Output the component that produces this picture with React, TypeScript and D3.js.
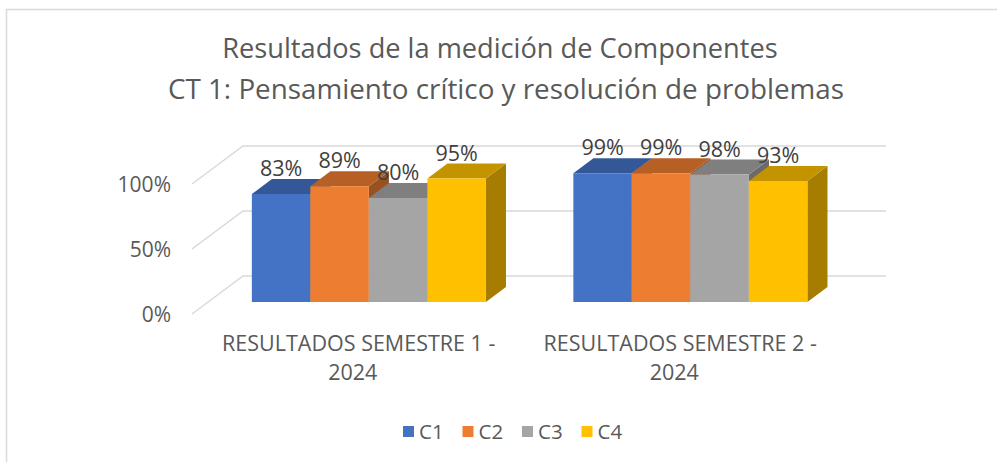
import React from "react";
import * as d3 from "d3";

const categories = ["RESULTADOS SEMESTRE 1 -|2024", "RESULTADOS SEMESTRE 2 -|2024"];
const series = ["C1", "C2", "C3", "C4"];
const values: number[][] = [
  [0.83, 0.89, 0.8, 0.95], // semestre 1
  [0.99, 0.99, 0.98, 0.93], // semestre 2
];
const colors = ["#4472C4", "#ED7D31", "#A5A5A5", "#FFC000"];
const yTicks = [0, 0.5, 1];
const titleLines = [
  "Resultados de la medición de Componentes",
  "CT 1: Pensamiento crítico y resolución de problemas",
];

const W = 997;
const H = 462;
const FONT = "'Open Sans', 'Noto Sans', sans-serif";

// oblique 3D geometry
const X0 = 192;
const X1 = 835;
const DX = 51;
const DY = -38;
const D_FRONT = 0.316;
const D_BACK = 0.71;

function shade(c: string, k: number) {
  const rgb = d3.rgb(c);
  return d3.rgb(rgb.r * k, rgb.g * k, rgb.b * k).formatHex();
}

export default function App() {
  const y = d3.scaleLinear().domain([0, 1]).range([314, 184]);
  const xCat = d3.scaleBand<string>().domain(categories).range([X0, X1]).padding(0);
  const step = xCat.step();
  const xSer = d3
    .scaleBand<string>()
    .domain(series)
    .range([step * 0.136, step * 0.864])
    .padding(0);

  const P = (x: number, v: number, d: number): [number, number] => [x + d * DX, y(v) + d * DY];
  const pts = (arr: [number, number][]) => arr.map((p) => p.join(",")).join(" ");

  const grid = yTicks.map((t) => {
    const a = P(X0, t, 0);
    const b = P(X0, t, 1);
    const c = P(X1, t, 1);
    return `M${a[0]},${a[1]}L${b[0]},${b[1]}L${c[0]},${c[1]}`;
  });

  const bars: React.ReactNode[] = [];
  const labels: React.ReactNode[] = [];
  categories.forEach((cat, ci) => {
    series.forEach((s, si) => {
      const v = values[ci][si];
      const xl = (xCat(cat) as number) + (xSer(s) as number);
      const xr = xl + xSer.bandwidth();
      const col = colors[si];
      const fTL = P(xl, v, D_FRONT);
      const fTR = P(xr, v, D_FRONT);
      const fBR = P(xr, 0, D_FRONT);
      const fBL = P(xl, 0, D_FRONT);
      const bTL = P(xl, v, D_BACK);
      const bTR = P(xr, v, D_BACK);
      const bBR = P(xr, 0, D_BACK);
      bars.push(
        <g key={`${ci}-${si}`}>
          <polygon points={pts([fTR, bTR, bBR, fBR])} fill={shade(col, 0.65)} />
          <polygon points={pts([fTL, bTL, bTR, fTR])} fill={shade(col, 0.77)} />
          <polygon points={pts([fTL, fTR, fBR, fBL])} fill={col} />
        </g>
      );
      labels.push(
        <text
          key={`l${ci}-${si}`}
          x={(fTL[0] + fTR[0]) / 2}
          y={bTL[1] - 3}
          textAnchor="middle"
          fontSize={21.5}
          fill="#404040"
        >
          {d3.format(".0%")(v)}
        </text>
      );
    });
  });

  return (
    <svg
      width={W}
      height={H}
      style={{ position: "absolute", left: 0, top: 0, background: "#fff" }}
      fontFamily={FONT}
    >
      <rect x={6.5} y={9.5} width={W + 10} height={H + 10} fill="#fff" stroke="#d9d9d9" strokeWidth={1.5} />
      {titleLines.map((t, i) => (
        <text key={t} x={i === 0 ? 500 : 506} y={58 + i * 41} textAnchor="middle" fontSize={i === 0 ? 27.2 : 27.8} fill="#595959">
          {t}
        </text>
      ))}
      {grid.map((d, i) => (
        <path key={i} d={d} fill="none" stroke="#d9d9d9" strokeWidth={1.5} />
      ))}
      {yTicks.map((t) => (
        <text key={t} x={171} y={y(t) + 1} dy="0.35em" textAnchor="end" fontSize={21} fill="#595959">
          {d3.format(".0%")(t)}
        </text>
      ))}
      {bars}
      {labels}
      {categories.map((cat) => {
        const [l1, l2] = cat.split("|");
        const cx = (xCat(cat) as number) + step / 2;
        return (
          <g key={cat} fill="#595959" fontSize={21.5} textAnchor="middle">
            <text x={cx + 6} y={351}>{l1}</text>
            <text x={cx} y={380}>{l2}</text>
          </g>
        );
      })}
      {series.map((s, i) => {
        const lx = 403 + i * 59.5;
        return (
          <g key={s}>
            <rect x={lx} y={426} width={11} height={11} fill={colors[i]} />
            <text x={lx + 16} y={431.5} dy="0.35em" fontSize={20.5} fill="#595959">
              {s}
            </text>
          </g>
        );
      })}
    </svg>
  );
}
